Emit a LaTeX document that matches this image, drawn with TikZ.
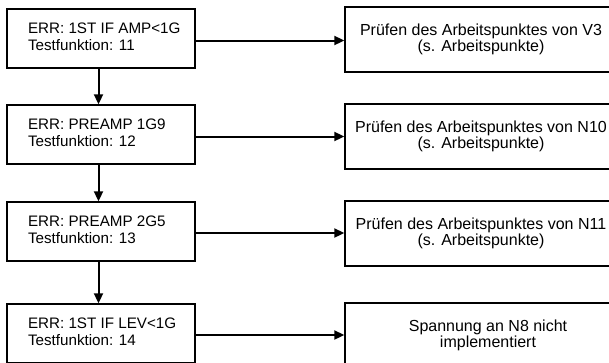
\documentclass[tikz,border=0pt]{standalone}
\usepackage{fontspec}
\setmainfont{Liberation Sans}
\usetikzlibrary{arrows.meta}
\tikzset{
  lbox/.style={draw=black, line width=1.4pt, rectangle, inner xsep=21pt, inner ysep=0pt,
    minimum width=188pt, minimum height=59pt, font=\fontsize{15.2}{16.5}\selectfont},
  rbox/.style={draw=black, line width=1.4pt, rectangle, inner sep=0pt, align=center,
    minimum width=272pt, minimum height=65pt, font=\fontsize{16}{16.5}\selectfont},
  arr/.style={line width=2pt, -{Triangle[length=10pt,width=9pt]}}
}
\newcommand{\lefttext}[2]{\makebox[146pt][l]{\begin{tabular}{@{}l@{}}#1\\#2\end{tabular}}}
\begin{document}
\begin{tikzpicture}[x=1pt,y=-1pt]
\useasboundingbox (0,0) rectangle (609,362);
\fill[white] (0,0) rectangle (609,362);
\clip (0,0) rectangle (609,362);
\node[lbox] (l1) at (101,38.5) {\lefttext{ERR: 1ST IF AMP<1G}{Testfunktion: 11}};
\node[lbox] (l2) at (101,134.5) {\lefttext{ERR: PREAMP 1G9}{Testfunktion: 12}};
\node[lbox] (l3) at (101,231.5) {\lefttext{ERR: PREAMP 2G5}{Testfunktion: 13}};
\node[lbox] (l4) at (101,333.5) {\lefttext{ERR: 1ST IF LEV<1G}{Testfunktion: 14}};
\node[rbox] (r1) at (481,39.5) {Prüfen des Arbeitspunktes von V3\\(s. Arbeitspunkte)};
\node[rbox] (r2) at (481,136.5) {Prüfen des Arbeitspunktes von N10\\(s. Arbeitspunkte)};
\node[rbox] (r3) at (481,233.5) {Prüfen des Arbeitspunktes von N11\\(s. Arbeitspunkte)};
\node[rbox, minimum width=286pt] (r4) at (488,335.5) {Spannung an N8 nicht\\implementiert};
\draw[arr] ([yshift=-2pt]l1.east) -- ([yshift=-2pt]l1.east -| r1.west);
\draw[arr] ([yshift=-2pt]l2.east) -- ([yshift=-2pt]l2.east -| r2.west);
\draw[arr] ([yshift=-1.5pt]l3.east) -- ([yshift=-1.5pt]l3.east -| r3.west);
\draw[arr] ([yshift=-1.5pt]l4.east) -- ([yshift=-1.5pt]l4.east -| r4.west);
\draw[arr] ([xshift=-2.5pt]l1.south) -- ([xshift=-2.5pt]l2.north);
\draw[arr] ([xshift=-2.5pt]l2.south) -- ([xshift=-2.5pt]l3.north);
\draw[arr] ([xshift=-2.5pt]l3.south) -- ([xshift=-2.5pt]l4.north);
\end{tikzpicture}
\end{document}
